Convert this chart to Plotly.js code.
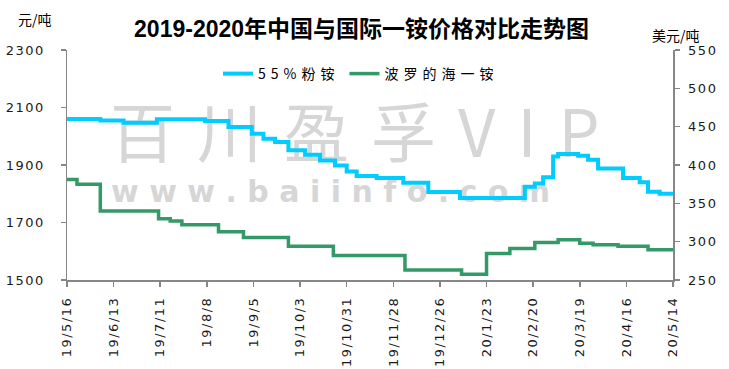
<!DOCTYPE html>
<html>
<head>
<meta charset="utf-8">
<script src="https://cdn.plot.ly/plotly-3.0.1.min.js"></script>
<style>
  html, body { margin: 0; padding: 0; background: #fff; }
  #chart { width: 729px; height: 369px; }
  .xtick text, .ytick text, .y2tick text { letter-spacing: 1.5px; }
  .legendtext { letter-spacing: 5px; }
</style>
</head>
<body>
<div id="chart"></div>
<script>
// ---- data ----
const tickDates = ['2019-05-16','2019-06-13','2019-07-11','2019-08-08','2019-09-05','2019-10-03','2019-10-31','2019-11-28','2019-12-26','2020-01-23','2020-02-20','2020-03-19','2020-04-16','2020-05-14'];
const tickLabels = ['19/5/16','19/6/13','19/7/11','19/8/8','19/9/5','19/10/3','19/10/31','19/11/28','19/12/26','20/1/23','20/2/20','20/3/19','20/4/16','20/5/14'];

// 55%粉铵 (元/吨), price change dates
const cnDates = ['2019-05-16','2019-06-05','2019-06-19','2019-07-09','2019-08-07','2019-08-21','2019-09-04','2019-09-11','2019-09-18','2019-09-26','2019-10-06','2019-10-15','2019-10-24','2019-10-31','2019-11-06','2019-11-18','2019-12-04','2019-12-19','2020-01-07','2020-02-15','2020-02-21','2020-02-26','2020-03-03','2020-03-06','2020-03-18','2020-03-24','2020-03-30','2020-04-14','2020-04-24','2020-04-29','2020-05-06','2020-05-14'];
const cnPrices = [2060,2055,2047,2059,2053,2032,2009,1991,1980,1951,1936,1916,1898,1877,1862,1855,1838,1806,1785,1824,1836,1857,1930,1938,1932,1918,1888,1855,1840,1807,1800,1800];

// 波罗的海一铵 (美元/吨), price change dates
const intlDates = ['2019-05-16','2019-05-22','2019-06-05','2019-07-10','2019-07-17','2019-07-24','2019-08-15','2019-08-30','2019-09-26','2019-10-23','2019-12-05','2020-01-08','2020-01-23','2020-02-06','2020-02-21','2020-03-06','2020-03-19','2020-03-27','2020-04-11','2020-04-29','2020-05-14'];
const intlPrices = [381,375,340,330,327,322,313,305.5,294,282,263,257.5,284.5,291,299,302.5,298,296,294,289.5,289.5];

const seriesNames = ['55%粉铵','波罗的海一铵'];

const axisGray = '#868686';
const tickFont = {family: 'DejaVu Sans', size: 13, color: '#1a1a1a'};
const cjk = 'Noto Sans CJK SC';

const traces = [
  {x: cnDates, y: cnPrices, name: seriesNames[0], type: 'scatter', mode: 'lines',
   line: {color: '#00CCFF', width: 4, shape: 'hv'}, yaxis: 'y'},
  {x: intlDates, y: intlPrices, name: seriesNames[1], type: 'scatter', mode: 'lines',
   line: {color: '#339966', width: 3.5, shape: 'hv'}, yaxis: 'y2'}
];

const px = v => (v - 67) / 606;     // helper: pixel -> paper x (layout only)
const py = v => (280 - v) / 230;    // helper: pixel -> paper y (layout only)

const layout = {
  width: 729, height: 369,
  margin: {l: 67, r: 56, t: 50, b: 89, pad: 0},
  paper_bgcolor: '#fff', plot_bgcolor: '#fff',
  showlegend: true,
  title: {text: '2019-2020年中国与国际一铵价格对比走势图', x: 0.496, xanchor: 'center',
          y: 1 - 28.5/369, yanchor: 'middle',
          font: {family: 'Liberation Sans, ' + cjk, size: 23, weight: 'bold', color: '#000'}},
  xaxis: {type: 'date', range: [tickDates[0], tickDates[tickDates.length-1]],
          tickmode: 'array', tickvals: tickDates, ticktext: tickLabels, tickangle: -90,
          ticks: 'outside', ticklen: 5, tickwidth: 1.5, tickcolor: axisGray,
          showline: true, linecolor: axisGray, linewidth: 1.5, showgrid: false, zeroline: false,
          tickfont: tickFont, ticklabelstandoff: 5},
  yaxis: {range: [1500, 2300], tick0: 1500, dtick: 200, ticks: 'outside', ticklen: 5,
          tickwidth: 1.5, tickcolor: axisGray, showline: true, linecolor: axisGray, linewidth: 1.5,
          showgrid: false, zeroline: false, tickfont: tickFont, ticklabelstandoff: 13},
  yaxis2: {range: [250, 550], tick0: 250, dtick: 50, overlaying: 'y', side: 'right',
           ticks: 'outside', ticklen: 5, tickwidth: 1.5, tickcolor: axisGray, showline: true,
           linecolor: axisGray, linewidth: 1.5, showgrid: false, zeroline: false,
           tickfont: tickFont, ticklabelstandoff: 6},
  legend: {orientation: 'h', x: px(218), xanchor: 'left', y: py(74), yanchor: 'middle',
           bgcolor: 'rgba(0,0,0,0)', font: {family: cjk, size: 14, color: '#000'},
           itemclick: false, traceorder: 'normal'},
  annotations: [
    {text: '元/吨', xref: 'paper', yref: 'paper', x: px(35), y: py(19), showarrow: false,
     xanchor: 'center', yanchor: 'middle', font: {family: cjk, size: 14, color: '#000'}},
    {text: '美元/吨', xref: 'paper', yref: 'paper', x: px(676), y: py(35), showarrow: false,
     xanchor: 'center', yanchor: 'middle', font: {family: cjk, size: 14, color: '#000'}}
  ],
  shapes: [
    {type: 'rect', xref: 'paper', yref: 'paper', x0: px(107), x1: px(660), y0: py(172), y1: py(106),
     line: {width: 0}, fillcolor: 'rgba(0,0,0,0)', layer: 'below',
     label: {text: '百川盈孚VIP', textposition: 'middle left', padding: 0,
             font: {family: cjk, size: 65, color: '#d6d6d6'}}},
    {type: 'rect', xref: 'paper', yref: 'paper', x0: px(108), x1: px(660), y0: py(206), y1: py(172),
     line: {width: 0}, fillcolor: 'rgba(0,0,0,0)', layer: 'below',
     label: {text: 'w w w . b a i i n f o . c o m', textposition: 'middle left', padding: 0,
             font: {family: 'DejaVu Sans', size: 30, weight: 'bold', color: '#d6d6d6'}}}
  ]
};

Plotly.newPlot('chart', traces, layout, {staticPlot: true, displayModeBar: false}).then(() => {
  document.querySelectorAll('.shapelayer text').forEach(t => {
    if (t.textContent.indexOf('百') >= 0) t.style.letterSpacing = '22px';
  });
});
</script>
</body>
</html>
